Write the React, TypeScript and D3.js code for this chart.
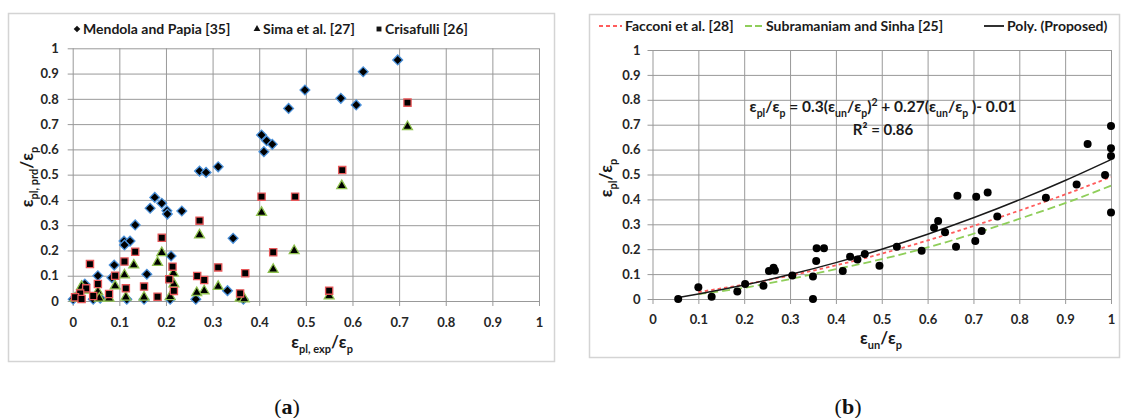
import React, { useEffect, useRef } from "react";
import * as d3 from "d3";

type Pt = [number, number];

const FONT = "Lato, 'Open Sans', sans-serif";

// shared axis ticks
const tickValues = [0, 0.1, 0.2, 0.3, 0.4, 0.5, 0.6, 0.7, 0.8, 0.9, 1];
const tickLabels = ["0", "0.1", "0.2", "0.3", "0.4", "0.5", "0.6", "0.7", "0.8", "0.9", "1"];

// (a) predicted vs experimental plastic strain
const mendola: Pt[] = [
  [0.697, 0.954], [0.623, 0.907], [0.498, 0.835], [0.575, 0.802], [0.608, 0.776], [0.463, 0.762],
  [0.405, 0.657], [0.416, 0.634], [0.428, 0.62], [0.41, 0.591],
  [0.272, 0.514], [0.286, 0.509], [0.312, 0.531],
  [0.176, 0.41], [0.166, 0.367], [0.191, 0.387], [0.202, 0.357], [0.203, 0.344], [0.234, 0.356],
  [0.134, 0.301], [0.11, 0.237], [0.123, 0.237], [0.111, 0.222], [0.344, 0.248], [0.211, 0.178],
  [0.089, 0.142], [0.054, 0.1], [0.159, 0.106], [0.084, 0.092], [0.332, 0.041], [0.026, 0.067],
  [0.001, 0.007], [0.012, 0.024], [0.044, 0.007], [0.059, 0.011], [0.116, 0.007], [0.153, 0.007],
  [0.209, 0.007], [0.264, 0.007], [0.366, 0.007],
];
const sima: Pt[] = [
  [0.718, 0.69], [0.577, 0.456], [0.475, 0.199], [0.55, 0.02],
  [0.405, 0.35], [0.272, 0.261], [0.191, 0.191], [0.182, 0.152], [0.131, 0.142], [0.43, 0.125],
  [0.111, 0.103], [0.216, 0.11], [0.091, 0.059], [0.217, 0.067], [0.312, 0.057], [0.282, 0.04],
  [0.266, 0.033], [0.054, 0.037], [0.019, 0.057], [0.026, 0.043], [0.114, 0.015], [0.153, 0.015],
  [0.209, 0.017], [0.078, 0.011], [0.359, 0.011], [0.368, 0.008], [0.005, 0.011], [0.057, 0.011],
];
const crisafulli: Pt[] = [
  [0.718, 0.785], [0.578, 0.518], [0.477, 0.413], [0.405, 0.413], [0.55, 0.041],
  [0.272, 0.318], [0.191, 0.25], [0.134, 0.195], [0.037, 0.146], [0.111, 0.156], [0.43, 0.193],
  [0.312, 0.133], [0.214, 0.136], [0.37, 0.11], [0.267, 0.099], [0.282, 0.083], [0.207, 0.086],
  [0.217, 0.04], [0.091, 0.1], [0.054, 0.067], [0.114, 0.05], [0.153, 0.057], [0.078, 0.028],
  [0.182, 0.017], [0.359, 0.03], [0.029, 0.05], [0.044, 0.02], [0.016, 0.03], [0.005, 0.015],
  [0.019, 0.008],
];

// (b) plastic strain vs unloading strain
const experiments: Pt[] = [
  [0.056, 0], [0.1, 0.047], [0.129, 0.009], [0.185, 0.03], [0.202, 0.06], [0.242, 0.053],
  [0.254, 0.112], [0.264, 0.126], [0.267, 0.114], [0.305, 0.094], [0.35, 0.09], [0.35, 0],
  [0.357, 0.153], [0.358, 0.204], [0.374, 0.204], [0.415, 0.112], [0.431, 0.17], [0.447, 0.159],
  [0.463, 0.181], [0.495, 0.134], [0.533, 0.21], [0.587, 0.194], [0.614, 0.286], [0.623, 0.313],
  [0.638, 0.268], [0.662, 0.21], [0.665, 0.415], [0.706, 0.411], [0.704, 0.233], [0.718, 0.273],
  [0.731, 0.428], [0.752, 0.331], [0.858, 0.407], [0.925, 0.46], [0.949, 0.622], [0.987, 0.498],
  [1, 0.695], [1, 0.605], [1, 0.574], [1, 0.347],
];
const curveX = [0.1, 0.2, 0.3, 0.4, 0.5, 0.6, 0.7, 0.8, 0.9, 1];
const facconiY = [0.028, 0.058, 0.094, 0.135, 0.182, 0.235, 0.293, 0.355, 0.42, 0.49];
const subramaniamY = [0.02, 0.045, 0.08, 0.12, 0.16, 0.207, 0.262, 0.322, 0.385, 0.455];
const proposedX = [0.056, 0.1, 0.2, 0.3, 0.4, 0.5, 0.6, 0.7, 0.8, 0.9, 1];
const proposedY = [0.006, 0.02, 0.056, 0.098, 0.146, 0.2, 0.26, 0.326, 0.398, 0.476, 0.56];

type Seg = { t: string; sub?: boolean; sup?: boolean };

function rich(text: any, segs: Seg[], size: number, small: number) {
  let shift = 0;
  segs.forEach((s) => {
    const target = s.sub ? size * 0.3 : s.sup ? -size * 0.4 : 0;
    text
      .append("tspan")
      .attr("dy", target - shift)
      .attr("font-size", s.sub || s.sup ? small : size)
      .text(s.t);
    shift = target;
  });
}

function frame(svg: any, x: any, y: any, padLeft: number, padBottom: number) {
  const fmt = (d: number) => tickLabels[tickValues.indexOf(d)];
  const w = x.range()[1] - x.range()[0];
  const h = y.range()[0] - y.range()[1];

  const gx = svg
    .append("g")
    .attr("transform", `translate(0,${y(0)})`)
    .call(d3.axisBottom(x).tickValues(tickValues).tickFormat(fmt).tickSizeInner(-h).tickSizeOuter(0).tickPadding(padBottom));
  gx.selectAll(".tick line").attr("y1", 5);

  const gy = svg
    .append("g")
    .attr("transform", `translate(${x(0)},0)`)
    .call(d3.axisLeft(y).tickValues(tickValues).tickFormat(fmt).tickSizeInner(-w).tickSizeOuter(0).tickPadding(padLeft));
  gy.selectAll(".tick line").attr("x1", -5);

  [gx, gy].forEach((g) => {
    g.select(".domain").remove();
    g.attr("font-family", FONT).attr("font-size", 13).attr("font-weight", "bold");
    g.selectAll(".tick line").attr("stroke", "#999").attr("stroke-width", 1);
    g.selectAll(".tick text").attr("fill", "#262626");
  });
}

const App = () => {
  const ref = useRef<SVGSVGElement>(null);

  useEffect(() => {
    const svg = d3.select(ref.current);
    svg.selectAll("*").remove();

    // chart boxes
    svg.append("rect").attr("x", 8.5).attr("y", 13.5).attr("width", 546).attr("height", 348)
      .attr("fill", "white").attr("stroke", "#d4d4d4").attr("stroke-width", 1.5);
    svg.append("rect").attr("x", 589.5).attr("y", 14.5).attr("width", 530).attr("height", 343)
      .attr("fill", "white").attr("stroke", "#d4d4d4").attr("stroke-width", 1.5);

    // ---------- panel (a) ----------
    const xa = d3.scaleLinear().domain([0, 1]).range([72.7, 539]);
    const ya = d3.scaleLinear().domain([0, 1]).range([301, 48.3]);
    frame(svg, xa, ya, 14, 17);

    const diamond = d3.symbol().type(d3.symbolSquare).size(48)();
    const triangle = d3.symbol().type(d3.symbolTriangle).size(42)();
    const square = d3.symbol().type(d3.symbolSquare).size(52)();

    const markers = [
      { data: mendola, path: diamond, rot: 45, stroke: "#4a90d9" },
      { data: sima, path: triangle, rot: 0, stroke: "#8fc24f" },
      { data: crisafulli, path: square, rot: 0, stroke: "#e8585a" },
    ];
    markers.forEach((m) => {
      svg
        .append("g")
        .selectAll("path")
        .data(m.data)
        .join("path")
        .attr("d", m.path)
        .attr("transform", (d: Pt) => `translate(${xa(d[0])},${ya(d[1])}) rotate(${m.rot})`)
        .attr("fill", "#000")
        .attr("stroke", m.stroke)
        .attr("stroke-width", 1.3);
    });

    const legA = [
      { label: "Mendola and Papia [35]", path: d3.symbol().type(d3.symbolSquare).size(22)(), rot: 45, x: 77 },
      { label: "Sima et al. [27]", path: d3.symbol().type(d3.symbolTriangle).size(20)(), rot: 0, x: 257 },
      { label: "Crisafulli [26]", path: d3.symbol().type(d3.symbolSquare).size(24)(), rot: 0, x: 379 },
    ];
    legA.forEach((l) => {
      svg.append("path").attr("d", l.path).attr("transform", `translate(${l.x},29) rotate(${l.rot})`).attr("fill", "#111");
      svg.append("text").attr("x", l.x + 6).attr("y", 29).attr("dy", "0.35em")
        .attr("font-family", FONT).attr("font-size", 14).attr("font-weight", "bold").attr("fill", "#1a1a1a")
        .text(l.label);
    });

    const tax = svg.append("text").attr("x", 322).attr("y", 348).attr("text-anchor", "middle")
      .attr("font-family", FONT).attr("font-weight", "bold").attr("fill", "#1a1a1a");
    rich(tax, [{ t: "ε" }, { t: "pl, exp", sub: true }, { t: "/ε" }, { t: "p", sub: true }], 17, 11);

    const tay = svg.append("text").attr("transform", "translate(33,177) rotate(-90)").attr("text-anchor", "middle")
      .attr("font-family", FONT).attr("font-weight", "bold").attr("fill", "#1a1a1a");
    rich(tay, [{ t: "ε" }, { t: "pl, prd", sub: true }, { t: "/ε" }, { t: "p", sub: true }], 17, 11);

    // ---------- panel (b) ----------
    const xb = d3.scaleLinear().domain([0, 1]).range([652.5, 1111]);
    const yb = d3.scaleLinear().domain([0, 1]).range([299, 50]);
    frame(svg, xb, yb, 12, 16);

    const line = d3.line<Pt>().x((d) => xb(d[0])).y((d) => yb(d[1])).curve(d3.curveMonotoneX);
    const curves = [
      { pts: curveX.map((v, i) => [v, subramaniamY[i]] as Pt), stroke: "#8fce5a", dash: "8,4" },
      { pts: curveX.map((v, i) => [v, facconiY[i]] as Pt), stroke: "#ff5c5c", dash: "3.5,3" },
      { pts: proposedX.map((v, i) => [v, proposedY[i]] as Pt), stroke: "#1a1a1a", dash: null },
    ];
    curves.forEach((c) => {
      svg.append("path").datum(c.pts).attr("d", line).attr("fill", "none")
        .attr("stroke", c.stroke).attr("stroke-width", c.dash ? 1.8 : 1.5).attr("stroke-dasharray", c.dash);
    });

    svg.append("g").selectAll("circle").data(experiments).join("circle")
      .attr("cx", (d: Pt) => xb(d[0])).attr("cy", (d: Pt) => yb(d[1])).attr("r", 4).attr("fill", "#000");

    const legB = [
      { label: "Facconi et al. [28]", stroke: "#ff5c5c", dash: "4,3", x1: 599, x2: 622 },
      { label: "Subramaniam and Sinha [25]", stroke: "#8fce5a", dash: "7,3", x1: 745, x2: 763 },
      { label: "Poly. (Proposed)", stroke: "#1a1a1a", dash: null, x1: 984, x2: 1004 },
    ];
    legB.forEach((l) => {
      svg.append("line").attr("x1", l.x1).attr("x2", l.x2).attr("y1", 26).attr("y2", 26)
        .attr("stroke", l.stroke).attr("stroke-width", 1.8).attr("stroke-dasharray", l.dash);
      svg.append("text").attr("x", l.x2 + 3).attr("y", 26).attr("dy", "0.35em")
        .attr("font-family", FONT).attr("font-size", 14).attr("font-weight", "bold").attr("fill", "#1a1a1a")
        .text(l.label);
    });

    const eq = svg.append("text").attr("x", 883).attr("y", 112).attr("text-anchor", "middle")
      .attr("font-family", FONT).attr("font-weight", "bold").attr("fill", "#1a1a1a");
    rich(eq, [
      { t: "ε" }, { t: "pl", sub: true }, { t: "/ε" }, { t: "p", sub: true },
      { t: " = 0.3(ε" }, { t: "un", sub: true }, { t: "/ε" }, { t: "p", sub: true }, { t: ")" },
      { t: "2", sup: true }, { t: " + 0.27(ε" }, { t: "un", sub: true }, { t: "/ε" }, { t: "p", sub: true },
      { t: " )- 0.01" },
    ], 15.5, 10.5);
    svg.append("text").attr("x", 883).attr("y", 135).attr("text-anchor", "middle")
      .attr("font-family", FONT).attr("font-weight", "bold").attr("font-size", 15).attr("fill", "#1a1a1a")
      .text("R² = 0.86");

    const tbx = svg.append("text").attr("x", 881).attr("y", 344).attr("text-anchor", "middle")
      .attr("font-family", FONT).attr("font-weight", "bold").attr("fill", "#1a1a1a");
    rich(tbx, [{ t: "ε" }, { t: "un", sub: true }, { t: "/ε" }, { t: "p", sub: true }], 17, 11);

    const tby = svg.append("text").attr("transform", "translate(612,178) rotate(-90)").attr("text-anchor", "middle")
      .attr("font-family", FONT).attr("font-weight", "bold").attr("fill", "#1a1a1a");
    rich(tby, [{ t: "ε" }, { t: "pl", sub: true }, { t: "/ε" }, { t: "p", sub: true }], 17, 11);

    // captions
    [{ x: 287, a: "a" }, { x: 848, a: "b" }].forEach((c) => {
      const t = svg.append("text").attr("x", c.x).attr("y", 414).attr("text-anchor", "middle")
        .attr("font-family", "'Liberation Serif', serif").attr("font-size", 22).attr("fill", "#111");
      t.append("tspan").text("(");
      t.append("tspan").attr("font-weight", "bold").text(c.a);
      t.append("tspan").text(")");
    });
  }, []);

  return (
    <svg
      ref={ref}
      width={1122}
      height={418}
      style={{ position: "absolute", left: 0, top: 0, background: "white" }}
    />
  );
};

export default App;
